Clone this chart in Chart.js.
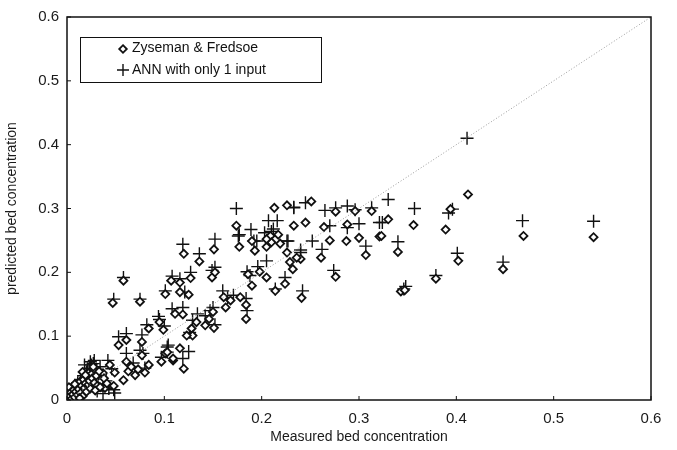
<!DOCTYPE html>
<html>
<head>
<meta charset="utf-8">
<script src="https://cdn.jsdelivr.net/npm/chart.js@4/dist/chart.umd.min.js"></script>
<style>
	html, body { margin: 0; padding: 0; background: #fff; }
	#wrap { width: 677px; height: 450px; }
</style>
</head>
<body>
<div id="wrap"><canvas id="chart"></canvas></div>
<script>
// [measured, predicted]
const zfPoints = [
	[0.541, 0.255], [0.469, 0.257], [0.412, 0.322], [0.394, 0.299], [0.389, 0.267], [0.402, 0.218],
	[0.448, 0.205], [0.379, 0.190], [0.343, 0.170], [0.347, 0.172], [0.356, 0.274], [0.330, 0.283],
	[0.321, 0.256], [0.323, 0.257], [0.307, 0.227], [0.340, 0.232], [0.313, 0.296], [0.296, 0.296],
	[0.300, 0.254], [0.288, 0.275], [0.287, 0.249], [0.276, 0.295], [0.270, 0.250], [0.264, 0.271],
	[0.261, 0.223], [0.251, 0.311], [0.245, 0.278], [0.233, 0.273], [0.276, 0.193], [0.241, 0.160],
	[0.240, 0.221], [0.236, 0.223], [0.229, 0.216], [0.232, 0.205], [0.226, 0.231], [0.226, 0.305],
	[0.213, 0.301], [0.224, 0.182], [0.214, 0.171], [0.205, 0.192], [0.198, 0.201], [0.190, 0.179],
	[0.186, 0.197], [0.174, 0.273], [0.177, 0.240], [0.209, 0.257], [0.217, 0.259], [0.190, 0.249],
	[0.205, 0.240], [0.210, 0.247], [0.219, 0.245], [0.193, 0.234], [0.205, 0.252],
	[0.151, 0.236], [0.120, 0.229], [0.136, 0.217], [0.058, 0.187], [0.047, 0.152], [0.075, 0.154],
	[0.127, 0.191], [0.107, 0.187], [0.116, 0.184], [0.101, 0.166], [0.116, 0.169], [0.125, 0.165],
	[0.149, 0.192], [0.152, 0.200], [0.161, 0.161], [0.168, 0.156], [0.178, 0.161], [0.184, 0.149],
	[0.184, 0.127], [0.163, 0.145], [0.150, 0.138], [0.142, 0.117], [0.146, 0.127], [0.133, 0.122],
	[0.151, 0.113], [0.128, 0.112], [0.129, 0.101], [0.123, 0.101], [0.111, 0.135], [0.119, 0.134],
	[0.095, 0.122], [0.084, 0.112], [0.099, 0.110], [0.077, 0.091], [0.061, 0.094], [0.053, 0.086],
	[0.109, 0.062], [0.116, 0.081], [0.120, 0.049], [0.101, 0.073], [0.097, 0.060], [0.109, 0.065],
	[0.061, 0.060], [0.077, 0.070], [0.084, 0.055], [0.070, 0.039], [0.063, 0.045], [0.058, 0.031],
	[0.044, 0.055], [0.049, 0.043], [0.048, 0.022], [0.027, 0.047], [0.022, 0.042], [0.037, 0.042],
	[0.103, 0.075], [0.039, 0.019], [0.066, 0.052], [0.073, 0.048], [0.080, 0.043],
	[0.002, 0.020], [0.003, 0.006], [0.004, 0.012], [0.005, 0.002], [0.006, 0.009], [0.007, 0.016],
	[0.008, 0.004], [0.009, 0.013], [0.010, 0.021], [0.011, 0.008], [0.012, 0.017], [0.013, 0.028],
	[0.014, 0.011], [0.015, 0.022], [0.016, 0.006], [0.017, 0.032], [0.018, 0.019], [0.019, 0.026],
	[0.020, 0.013], [0.021, 0.036], [0.022, 0.024], [0.023, 0.030], [0.024, 0.018], [0.025, 0.040],
	[0.026, 0.034], [0.028, 0.027], [0.030, 0.038], [0.031, 0.022], [0.033, 0.045], [0.035, 0.030],
	[0.038, 0.034], [0.041, 0.026], [0.016, 0.044], [0.019, 0.039], [0.008, 0.025], [0.029, 0.015],
	[0.034, 0.020], [0.013, 0.003], [0.027, 0.052]
];

const annPoints = [
	[0.541, 0.280], [0.468, 0.281], [0.411, 0.410], [0.392, 0.293], [0.396, 0.299], [0.401, 0.230],
	[0.448, 0.216], [0.379, 0.195], [0.346, 0.174], [0.348, 0.178], [0.330, 0.314], [0.357, 0.300],
	[0.321, 0.278], [0.324, 0.278], [0.307, 0.241], [0.340, 0.248], [0.313, 0.301], [0.296, 0.298],
	[0.300, 0.276], [0.288, 0.270], [0.288, 0.304], [0.276, 0.301], [0.270, 0.273], [0.265, 0.297],
	[0.262, 0.236], [0.252, 0.249], [0.245, 0.309], [0.233, 0.301], [0.274, 0.203], [0.242, 0.171],
	[0.240, 0.231], [0.240, 0.235], [0.227, 0.249], [0.233, 0.302], [0.174, 0.300], [0.224, 0.192],
	[0.214, 0.174], [0.205, 0.218], [0.196, 0.209], [0.188, 0.195], [0.185, 0.201], [0.189, 0.267],
	[0.177, 0.259], [0.207, 0.281], [0.216, 0.281], [0.203, 0.262], [0.212, 0.268], [0.195, 0.249],
	[0.226, 0.249], [0.176, 0.257], [0.192, 0.249], [0.210, 0.264],
	[0.152, 0.252], [0.119, 0.244], [0.136, 0.229], [0.058, 0.192], [0.048, 0.158], [0.075, 0.158],
	[0.127, 0.200], [0.108, 0.194], [0.116, 0.190], [0.101, 0.171], [0.121, 0.169], [0.149, 0.203],
	[0.152, 0.208], [0.160, 0.171], [0.171, 0.164], [0.184, 0.159], [0.185, 0.140], [0.150, 0.145],
	[0.142, 0.132], [0.147, 0.140], [0.134, 0.135], [0.152, 0.118], [0.129, 0.125], [0.126, 0.106],
	[0.165, 0.160], [0.108, 0.143], [0.119, 0.145], [0.095, 0.126], [0.082, 0.118], [0.100, 0.116],
	[0.077, 0.102], [0.061, 0.104], [0.053, 0.099], [0.104, 0.086], [0.125, 0.076], [0.119, 0.065],
	[0.103, 0.075], [0.097, 0.067], [0.103, 0.083], [0.094, 0.131], [0.061, 0.073], [0.075, 0.078],
	[0.078, 0.073], [0.042, 0.062], [0.046, 0.049], [0.048, 0.016], [0.027, 0.057], [0.021, 0.049],
	[0.034, 0.052], [0.049, 0.011], [0.024, 0.060], [0.068, 0.058], [0.080, 0.050],
	[0.002, 0.008], [0.003, 0.015], [0.004, 0.004], [0.005, 0.010], [0.006, 0.018], [0.007, 0.006],
	[0.008, 0.013], [0.009, 0.022], [0.010, 0.010], [0.011, 0.027], [0.012, 0.015], [0.013, 0.020],
	[0.014, 0.032], [0.015, 0.012], [0.016, 0.025], [0.017, 0.038], [0.018, 0.018], [0.019, 0.030],
	[0.020, 0.044], [0.021, 0.022], [0.022, 0.035], [0.023, 0.050], [0.024, 0.028], [0.025, 0.055],
	[0.026, 0.040], [0.028, 0.032], [0.030, 0.048], [0.032, 0.036], [0.034, 0.040], [0.036, 0.024],
	[0.040, 0.030], [0.043, 0.018], [0.018, 0.055], [0.028, 0.062], [0.031, 0.014], [0.037, 0.010]
];

const diagonal = [0, 0.6];
const axisTicks = [0, 0.1, 0.2, 0.3, 0.4, 0.5, 0.6];
const seriesLabels = ["Zyseman & Fredsoe", "ANN with only 1 input"];
const xTitle = "Measured bed concentration";
const yTitle = "predicted bed concentration";

const FONT = "'Liberation Sans', Arial, sans-serif";

function toXY(list) {
	return list.map((p) => ({ x: p[0], y: p[1] }));
}

function drawDiamond(ctx, x, y, r) {
	ctx.beginPath();
	ctx.moveTo(x, y - r);
	ctx.lineTo(x + r, y);
	ctx.lineTo(x, y + r);
	ctx.lineTo(x - r, y);
	ctx.closePath();
	ctx.fillStyle = "#fff";
	ctx.fill();
	ctx.stroke();
}

function drawPlus(ctx, x, y, r) {
	ctx.beginPath();
	ctx.moveTo(x - r, y);
	ctx.lineTo(x + r, y);
	ctx.moveTo(x, y - r);
	ctx.lineTo(x, y + r);
	ctx.stroke();
}

// box, inner ticks and the legend inside the plot
const framePlugin = {
	id: "frame",
	afterDraw(chart) {
		const ctx = chart.ctx;
		const a = chart.chartArea;
		const xs = chart.scales.x;
		const ys = chart.scales.y;
		ctx.save();
		ctx.strokeStyle = "#111";
		ctx.lineWidth = 1.5;
		ctx.strokeRect(a.left, a.top, a.right - a.left, a.bottom - a.top);
		ctx.lineWidth = 1;
		axisTicks.forEach((t) => {
			const px = xs.getPixelForValue(t);
			const py = ys.getPixelForValue(t);
			ctx.beginPath();
			ctx.moveTo(px, a.bottom);
			ctx.lineTo(px, a.bottom - 4);
			ctx.moveTo(a.left, py);
			ctx.lineTo(a.left + 4, py);
			ctx.stroke();
		});

		const bx = a.left + 13, by = a.top + 20;
		ctx.fillStyle = "#fff";
		ctx.fillRect(bx, by, 241, 45);
		ctx.lineWidth = 1;
		ctx.strokeRect(bx + 0.5, by + 0.5, 241, 45);
		ctx.font = "14px " + FONT;
		ctx.textBaseline = "middle";
		ctx.strokeStyle = "#111";
		ctx.lineWidth = 1.8;
		drawDiamond(ctx, bx + 43, by + 12, 3.8);
		ctx.lineWidth = 1.4;
		drawPlus(ctx, bx + 43, by + 33, 6);
		ctx.fillStyle = "#111";
		ctx.fillText(seriesLabels[0], bx + 52, by + 11);
		ctx.fillText(seriesLabels[1], bx + 52, by + 33);
		ctx.restore();
	},
};

const ctx = document.getElementById("chart");

new Chart(ctx, {
	type: "scatter",
	data: {
		datasets: [
			{
				label: "1:1",
				type: "line",
				data: diagonal.map((v) => ({ x: v, y: v })),
				borderColor: "#9a9a9a",
				borderWidth: 1,
				borderDash: [1, 2],
				pointRadius: 0,
				fill: false,
			},
			{
				label: seriesLabels[0],
				data: toXY(zfPoints),
				pointStyle: "rectRot",
				pointRadius: 4,
				pointBorderWidth: 1.8,
				borderColor: "#111",
				backgroundColor: "#fff",
			},
			{
				label: seriesLabels[1],
				data: toXY(annPoints),
				pointStyle: "cross",
				pointRadius: 6.5,
				pointBorderWidth: 1.4,
				borderColor: "#111",
				backgroundColor: "#111",
			},
		],
	},
	options: {
		responsive: true,
		maintainAspectRatio: false,
		animation: false,
		layout: { padding: { top: 15, right: 26, left: 0, bottom: 0 } },
		plugins: {
			legend: { display: false },
			tooltip: { enabled: false },
		},
		scales: {
			x: {
				type: "linear",
				min: 0,
				max: 0.6,
				afterFit: (s) => { s.height = 50; },
				afterBuildTicks: (s) => { s.ticks = axisTicks.map((v) => ({ value: v })); },
				grid: { display: false, drawTicks: false },
				border: { display: false },
				ticks: {
					color: "#1a1a1a",
					padding: 10,
					font: { family: FONT, size: 15 },
					callback: (v) => String(Math.round(v * 10) / 10),
				},
				title: {
					display: true,
					text: xTitle,
					color: "#1a1a1a",
					padding: { top: 2 },
					font: { family: FONT, size: 14 },
				},
			},
			y: {
				type: "linear",
				min: 0,
				max: 0.6,
				afterFit: (s) => { s.width = 67; },
				afterBuildTicks: (s) => { s.ticks = axisTicks.map((v) => ({ value: v })); },
				grid: { display: false, drawTicks: false },
				border: { display: false },
				ticks: {
					color: "#1a1a1a",
					padding: 8,
					font: { family: FONT, size: 15 },
					callback: (v) => String(Math.round(v * 10) / 10),
				},
				title: {
					display: true,
					text: yTitle,
					color: "#1a1a1a",
					padding: { bottom: 2 },
					font: { family: FONT, size: 14 },
				},
			},
		},
	},
	plugins: [framePlugin],
});
</script>
</body>
</html>
